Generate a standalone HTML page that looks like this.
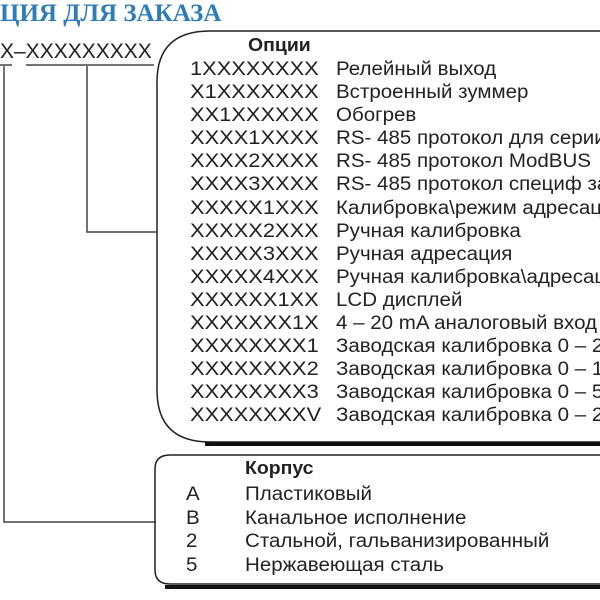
<!DOCTYPE html>
<html><head><meta charset="utf-8"><style>
body{margin:0;width:600px;height:600px;background:#fff;overflow:hidden;position:relative;font-family:"Liberation Sans",sans-serif;color:#222}
.t{position:absolute;white-space:nowrap;font-size:19px;line-height:20px;transform-origin:0 0;transform:scaleX(1.08)}
.c{transform:scaleX(1.15)}
.title{position:absolute;left:0;top:0px;font-family:"Liberation Serif",serif;font-weight:bold;font-size:25px;color:#2f7db8;white-space:nowrap}
</style></head><body>
<div class="title">ЦИЯ ДЛЯ ЗАКАЗА</div>
<div class="t" style="left:0;top:42px;font-size:21px;transform:none">X–XXXXXXXXX</div>
<svg width="600" height="600" style="position:absolute;left:0;top:0">
<g stroke="#444" stroke-width="1.5" fill="none">
<line x1="0" y1="65" x2="12" y2="65"/><line x1="26" y1="65" x2="154" y2="65"/>
<polyline points="4,66 4,522 156,522"/>
<polyline points="87,66 87,232 157,232"/>
</g>
<path d="M610,442 L210,442 Q157,442 157,390 L157,82 Q157,31 210,31 L610,31" fill="none" stroke="#222" stroke-width="1.5"/>
<path d="M205,444 L610,444" stroke="#111" stroke-width="4"/>
<path d="M610,584 L170,584 Q155,584 155,570 L155,469 Q155,455 170,455 L610,455" fill="none" stroke="#222" stroke-width="1.5"/>
<path d="M165,587 L610,587" stroke="#111" stroke-width="4"/>
</svg>
<div class="t" style="left:248px;top:35px;font-weight:bold;font-size:18px">Опции</div>
<div class="t c" style="left:190px;top:58px;line-height:23.1px">1XXXXXXXX<br>X1XXXXXXX<br>XX1XXXXXX<br>XXXX1XXXX<br>XXXX2XXXX<br>XXXX3XXXX<br>XXXXX1XXX<br>XXXXX2XXX<br>XXXXX3XXX<br>XXXXX4XXX<br>XXXXXX1XX<br>XXXXXXX1X<br>XXXXXXXX1<br>XXXXXXXX2<br>XXXXXXXX3<br>XXXXXXXXV</div>
<div class="t" style="left:336px;top:58px;line-height:23.1px">Релейный выход<br>Встроенный зуммер<br>Обогрев<br>RS- 485 протокол для серии<br>RS- 485 протокол ModBUS<br>RS- 485 протокол специф за<br>Калибровка\режим адресаци<br>Ручная калибровка<br>Ручная адресация<br>Ручная калибровка\адресац<br>LCD дисплей<br>4 – 20 mA аналоговый вход<br>Заводская калибровка 0 – 2<br>Заводская калибровка 0 – 1<br>Заводская калибровка 0 – 5<br>Заводская калибровка 0 – 2</div>
<div class="t" style="left:245px;top:458px;font-weight:bold;font-size:18px">Корпус</div>
<div class="t" style="left:186px;top:483px;line-height:23.7px">A<br>B<br>2<br>5</div>
<div class="t" style="left:245px;top:483px;line-height:23.7px">Пластиковый<br>Канальное исполнение<br>Стальной, гальванизированный<br>Нержавеющая сталь</div>
</body></html>
